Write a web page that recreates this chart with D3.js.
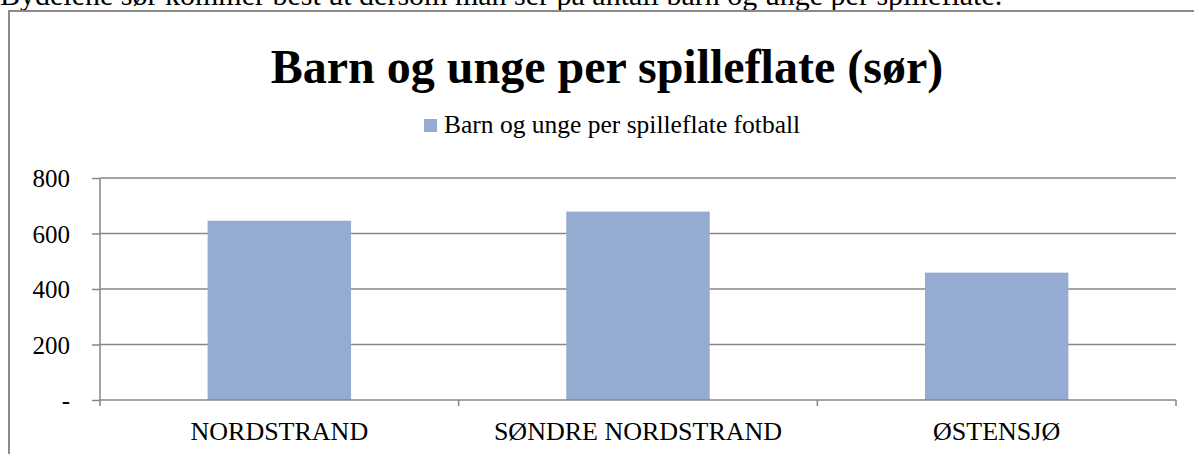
<!DOCTYPE html>
<html><head><meta charset="utf-8">
<script src="https://cdn.jsdelivr.net/npm/d3@7"></script>
<style>body{margin:0;background:#fff;overflow:hidden}svg{display:block}</style>
</head><body>
<svg id="c" width="1194" height="454"></svg>
<script>
const categories = ["NORDSTRAND", "SØNDRE NORDSTRAND", "ØSTENSJØ"];
const values = [646, 679, 459];
const yTicks = [0, 200, 400, 600, 800];
const yTickLabels = ["-", "200", "400", "600", "800"];
const seriesName = "Barn og unge per spilleflate fotball";
const title = "Barn og unge per spilleflate (sør)";
const introText = "Bydelene sør kommer best ut dersom man ser på antall barn og unge per spilleflate.";

const svg = d3.select("#c");
const font = "'Liberation Serif', 'Times New Roman', serif";
const grid = "#878787";

svg.append("text").attr("x", 0).attr("y", 5).attr("font-family", font)
  .attr("font-size", 30).attr("fill", "#000").text(introText);

svg.append("rect").attr("x", 9).attr("y", 11).attr("width", 1200).attr("height", 460)
  .attr("fill", "#fff").attr("stroke", "#8a8a8a").attr("stroke-width", 2);

svg.append("text").attr("x", 607).attr("y", 83).attr("text-anchor", "middle")
  .attr("font-family", font).attr("font-weight", "bold").attr("font-size", 48)
  .text(title);

svg.append("rect").attr("x", 424).attr("y", 119).attr("width", 13).attr("height", 13).attr("fill", "#95abd2");
svg.append("text").attr("x", 444).attr("y", 133).attr("font-family", font).attr("font-size", 25.5).text(seriesName);

const pL = 100, pR = 1176, pT = 178, pB = 400;
const x = d3.scaleBand().domain(categories).range([pL, pR]).paddingInner(0.6).paddingOuter(0.3);
const xc = d3.scaleBand().domain(categories).range([pL, pR]).padding(0);
const y = d3.scaleLinear().domain([0, 800]).range([pB, pT]);

const yAxis = svg.append("g").attr("transform", `translate(${pL},0)`)
  .call(d3.axisLeft(y).tickValues(yTicks).tickSize(8).tickFormat((d, i) => yTickLabels[i]));
yAxis.select(".domain").remove();
yAxis.selectAll("line").attr("stroke", grid).attr("stroke-width", 1.5);
yAxis.selectAll("text").attr("font-family", font).attr("font-size", 25).attr("fill", "#000")
  .attr("x", -30).attr("dy", "0.35em");

svg.append("g").selectAll("line").data(yTicks.filter(d => d > 0)).join("line")
  .attr("x1", pL).attr("x2", pR).attr("y1", d => y(d)).attr("y2", d => y(d))
  .attr("stroke", grid).attr("stroke-width", 1.5);

svg.append("g").selectAll("rect").data(values).join("rect")
  .attr("x", (d, i) => x(categories[i])).attr("width", x.bandwidth())
  .attr("y", d => y(d)).attr("height", d => y(0) - y(d)).attr("fill", "#95abd2");

svg.append("line").attr("x1", pL).attr("x2", pL).attr("y1", pT).attr("y2", pB + 6)
  .attr("stroke", grid).attr("stroke-width", 1.5);
svg.append("line").attr("x1", pL).attr("x2", pR).attr("y1", pB).attr("y2", pB)
  .attr("stroke", grid).attr("stroke-width", 1.5);
const bounds = categories.map(c => xc(c) + xc.bandwidth());
svg.append("g").selectAll("line").data(bounds).join("line")
  .attr("x1", d => d).attr("x2", d => d).attr("y1", pB).attr("y2", pB + 6)
  .attr("stroke", grid).attr("stroke-width", 1.5);

svg.append("g").selectAll("text").data(categories).join("text")
  .attr("x", d => xc(d) + xc.bandwidth() / 2).attr("y", 440).attr("text-anchor", "middle")
  .attr("font-family", font).attr("font-size", 26).text(d => d);
</script>
</body></html>
